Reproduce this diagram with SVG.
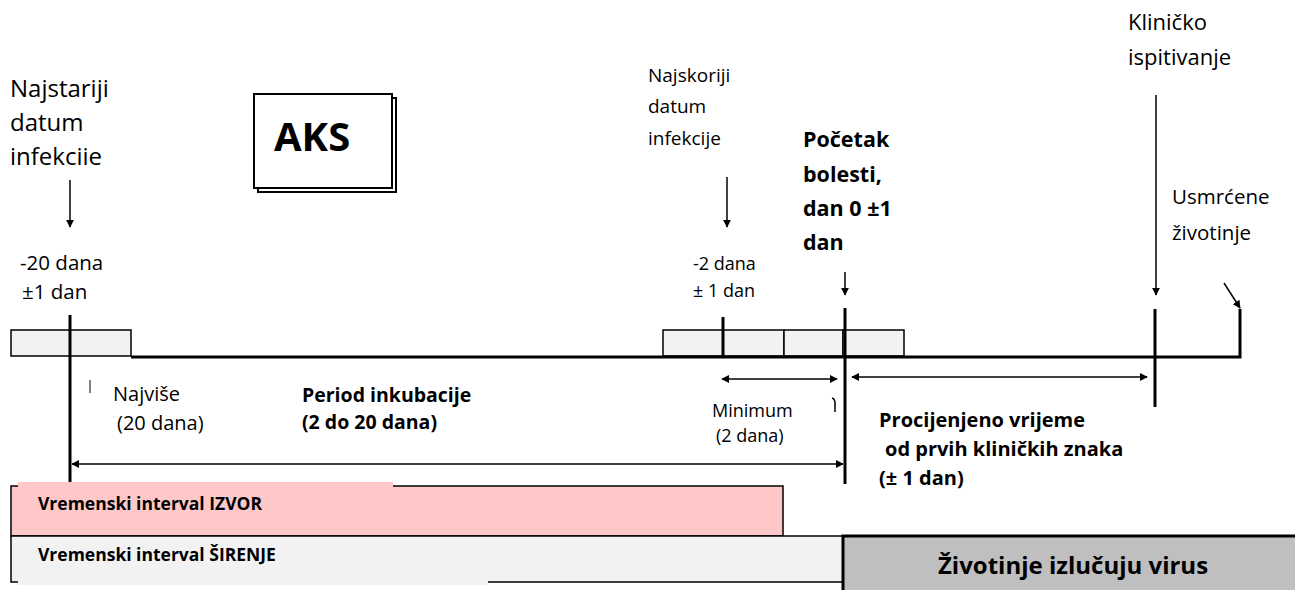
<svg xmlns="http://www.w3.org/2000/svg" width="1295" height="590" viewBox="0 0 1295 590">
<defs>
<marker id="ah" viewBox="0 0 10 10" refX="9" refY="5" markerWidth="8" markerHeight="8" markerUnits="userSpaceOnUse" orient="auto-start-reverse">
<path d="M0,0 L10,5 L0,10 z" fill="#000"/>
</marker>
<style>
text{font-family:"Open Sans","Noto Sans","DejaVu Sans",sans-serif;fill:#000}
.xl{font-size:24px}
.lg{font-size:22px}
.ml{font-size:20.5px}
.md{font-size:19px}
.sm{font-size:18px}
.b{font-weight:bold}
.thick{stroke:#000;stroke-width:3;fill:none}
.arr{stroke:#000;stroke-width:1.5;fill:none;marker-end:url(#ah)}
.dbl{stroke:#000;stroke-width:1.5;fill:none;marker-end:url(#ah);marker-start:url(#ah)}
.cell{fill:#F2F2F2;stroke:#000;stroke-width:1.5}
</style>
</defs>
<rect width="1295" height="590" fill="#fff"/>

<g id="timeline">
<rect class="cell" x="11" y="330" width="120" height="26"/>
<rect class="cell" x="663" y="330" width="60" height="26"/>
<rect class="cell" x="723" y="330" width="61" height="26"/>
<rect class="cell" x="784" y="330" width="59" height="26"/>
<rect class="cell" x="843" y="330" width="61" height="26"/>
<path class="thick" d="M131,357 H1240 V309"/>
<line class="thick" x1="70" y1="315" x2="70" y2="482"/>
<line class="thick" x1="723" y1="317" x2="723" y2="356"/>
<line class="thick" x1="845" y1="308" x2="845" y2="484"/>
<line class="thick" x1="1155" y1="309" x2="1155" y2="407"/>
<line x1="90" y1="380" x2="90" y2="393" stroke="#000" stroke-width="1"/>
<path d="M832,398 q3,1 3,5 v9" stroke="#000" stroke-width="1.5" fill="none"/>
</g>

<g id="connectors">
<line class="arr" x1="70" y1="180" x2="70" y2="227"/>
<line class="arr" x1="727" y1="177" x2="727" y2="227"/>
<line class="arr" x1="845" y1="272" x2="845" y2="295"/>
<line class="arr" x1="1156" y1="95" x2="1156" y2="295"/>
<line class="arr" x1="1224" y1="283" x2="1240" y2="308"/>
<line class="dbl" x1="722" y1="379" x2="837" y2="379"/>
<line class="dbl" x1="852" y1="377" x2="1147" y2="377"/>
<line class="dbl" x1="72" y1="464" x2="843" y2="464"/>
</g>

<g id="oldest">
<text class="xl" x="10" y="97">Najstariji</text>
<text class="xl" x="10" y="131">datum</text>
<text class="xl" x="10" y="165">infekciie</text>
<text class="ml" x="20" y="270">-20 dana</text>
<text class="ml" x="22" y="299">±1 dan</text>
</g>

<g id="aks">
<rect x="258" y="98" width="138" height="94" fill="#fff" stroke="#000" stroke-width="2"/>
<rect x="254" y="94" width="138" height="94" fill="#fff" stroke="#000" stroke-width="2"/>
<text class="b" x="274" y="151" font-size="40">AKS</text>
</g>

<g id="latest">
<text class="md" x="648" y="82">Najskoriji</text>
<text class="md" x="648" y="113">datum</text>
<text class="md" x="648" y="145">infekcije</text>
<text class="sm" x="693" y="270">-2 dana</text>
<text class="sm" x="693" y="297">± 1 dan</text>
</g>

<g id="onset">
<text class="b" x="803" y="147" font-size="21.5">Početak</text>
<text class="b" x="803" y="182" font-size="21.5">bolesti,</text>
<text class="b" x="803" y="216" font-size="21.5">dan 0 ±1</text>
<text class="b" x="803" y="250" font-size="21.5">dan</text>
</g>

<g id="clinical">
<text class="lg" x="1128" y="30">Kliničko</text>
<text class="lg" x="1128" y="65">ispitivanje</text>
</g>

<g id="killed">
<text class="ml" x="1172" y="204">Usmrćene</text>
<text class="ml" x="1172" y="240">životinje</text>
</g>

<g id="max">
<text x="113" y="401" font-size="20">Najviše</text>
<text x="117" y="430" font-size="20">(20 dana)</text>
</g>

<g id="incubation">
<text class="b" x="302" y="402" font-size="19.5">Period inkubacije</text>
<text class="b" x="302" y="429" font-size="19.5">(2 do 20 dana)</text>
</g>

<g id="minimum">
<text class="sm" x="712" y="417">Minimum</text>
<text class="sm" x="716" y="442">(2 dana)</text>
</g>

<g id="estimated">
<text class="b" x="879" y="427" font-size="20">Procijenjeno vrijeme</text>
<text class="b" x="885" y="456" font-size="20">od prvih kliničkih znaka</text>
<text class="b" x="879" y="485" font-size="20">(± 1 dan)</text>
</g>

<g id="source">
<rect x="11" y="486" width="772" height="50" fill="#FFC8C8" stroke="#000" stroke-width="1.5"/>
<rect x="18" y="482" width="375" height="53" fill="#FFC8C8"/>
<text class="b" x="38" y="510" font-size="17.5">Vremenski interval IZVOR</text>
</g>

<g id="spread">
<rect x="11" y="536" width="832" height="46" fill="#F2F2F2" stroke="#000" stroke-width="1.5"/>
<rect x="18" y="537" width="470" height="48" fill="#F2F2F2"/>
<text class="b" x="38" y="561" font-size="17.5">Vremenski interval ŠIRENJE</text>
</g>

<g id="shedding">
<rect x="843" y="536" width="462" height="60" fill="#BFBFBF" stroke="#000" stroke-width="3"/>
<text class="b" x="1073" y="574" font-size="24" text-anchor="middle">Životinje izlučuju virus</text>
</g>
</svg>
